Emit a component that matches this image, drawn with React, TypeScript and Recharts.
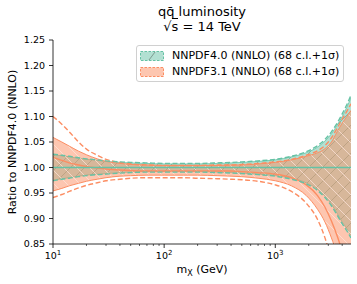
import React from 'react'
import { ComposedChart, Area, Line, XAxis, YAxis } from 'recharts'

const FONT = '"DejaVu Sans", sans-serif'
const GREEN = '#66c2a5'
const ORANGE = '#fc8d62'

// invariant mass grid (GeV)
const mx = [10, 12, 14, 17, 20, 25, 30, 40, 50, 70, 100, 150, 200, 300, 400, 500, 700, 1000, 1400, 1900, 2400, 2800, 3200, 3600, 4000, 4400, 4800]

// NNPDF4.0: 68 c.l. band and 1 sigma
const nn40Lo68 = [0.975, 0.978, 0.98, 0.983, 0.985, 0.987, 0.988, 0.99, 0.991, 0.992, 0.992, 0.992, 0.992, 0.991, 0.99, 0.989, 0.987, 0.984, 0.979, 0.97, 0.957, 0.944, 0.928, 0.91, 0.893, 0.88, 0.866]
const nn40Hi68 = [1.025, 1.023, 1.021, 1.018, 1.016, 1.014, 1.012, 1.01, 1.009, 1.008, 1.007, 1.007, 1.007, 1.008, 1.009, 1.01, 1.012, 1.015, 1.021, 1.029, 1.04, 1.052, 1.066, 1.083, 1.1, 1.118, 1.137]
const nn40Lo1s = [0.974, 0.977, 0.979, 0.982, 0.984, 0.986, 0.987, 0.989, 0.99, 0.991, 0.991, 0.991, 0.991, 0.99, 0.989, 0.988, 0.986, 0.983, 0.977, 0.968, 0.955, 0.941, 0.925, 0.907, 0.89, 0.876, 0.862]
const nn40Hi1s = [1.026, 1.024, 1.022, 1.019, 1.017, 1.015, 1.013, 1.011, 1.01, 1.009, 1.008, 1.008, 1.008, 1.009, 1.01, 1.011, 1.013, 1.016, 1.022, 1.031, 1.043, 1.055, 1.07, 1.087, 1.105, 1.123, 1.142]

// NNPDF3.1 ratio to NNPDF4.0
const nn31Central = [1.02, 1.014, 1.009, 1.005, 1.002, 0.999, 0.997, 0.995, 0.994, 0.993, 0.993, 0.993, 0.993, 0.993, 0.993, 0.992, 0.99, 0.987, 0.98, 0.966, 0.945, 0.922, 0.895, 0.866, 0.835, 0.8, 0.765]
const nn31Lo68 = [0.954, 0.959, 0.964, 0.969, 0.973, 0.977, 0.98, 0.983, 0.984, 0.985, 0.985, 0.985, 0.985, 0.984, 0.983, 0.982, 0.979, 0.974, 0.964, 0.945, 0.918, 0.893, 0.862, 0.83, 0.795, 0.76, 0.72]
const nn31Hi68 = [1.059, 1.05, 1.042, 1.032, 1.025, 1.017, 1.012, 1.008, 1.006, 1.005, 1.004, 1.004, 1.004, 1.004, 1.005, 1.005, 1.007, 1.01, 1.015, 1.022, 1.029, 1.037, 1.05, 1.07, 1.087, 1.1, 1.112]
const nn31Lo1s = [0.941, 0.947, 0.953, 0.96, 0.965, 0.97, 0.974, 0.977, 0.979, 0.98, 0.98, 0.98, 0.979, 0.978, 0.977, 0.976, 0.973, 0.966, 0.953, 0.93, 0.898, 0.862, 0.82, 0.78, 0.74, 0.7, 0.66]
const nn31Hi1s = [1.1, 1.085, 1.07, 1.05, 1.036, 1.024, 1.016, 1.01, 1.007, 1.005, 1.004, 1.004, 1.004, 1.005, 1.005, 1.006, 1.008, 1.011, 1.016, 1.024, 1.033, 1.043, 1.058, 1.077, 1.095, 1.11, 1.125]

const yTicks = [0.85, 0.9, 0.95, 1.0, 1.05, 1.1, 1.15, 1.2, 1.25]
const xMajor = [10, 100, 1000]
const xTicks = [10, 20, 30, 40, 50, 60, 70, 80, 90, 100, 200, 300, 400, 500, 600, 700, 800, 900, 1000, 2000, 3000, 4000]

const data = mx.map((m, i) => ({
  mx: m,
  g68: [nn40Lo68[i], nn40Hi68[i]],
  gLo: nn40Lo1s[i],
  gHi: nn40Hi1s[i],
  gc: 1,
  o68: [nn31Lo68[i], nn31Hi68[i]],
  oLo: nn31Lo1s[i],
  oHi: nn31Hi1s[i],
  oc: nn31Central[i],
}))

function XTick(props: any) {
  const { x, y, payload } = props
  const v = payload.value
  const major = xMajor.includes(v)
  return (
    <g>
      <line x1={x} x2={x} y1={y} y2={y + (major ? 4 : 2)} stroke="#000" strokeWidth={major ? 0.8 : 0.6} />
      {major && (
        <text x={x} y={y + 15} textAnchor="middle" fontSize={9.5} fontFamily={FONT} fill="#000">
          10<tspan dy={-4} fontSize={7}>{Math.round(Math.log10(v))}</tspan>
        </text>
      )}
    </g>
  )
}

function Patch({ color, hatch }: { color: string; hatch?: boolean }) {
  return (
    <svg width={24} height={10} style={{ display: 'block' }}>
      <rect x={0.5} y={0.5} width={23} height={9} fill={color} fillOpacity={0.5} stroke={color} strokeDasharray="2.5 1.5" />
      {hatch && <line x1={9} y1={9} x2={15} y2={1} stroke="#6f8a80" strokeWidth={0.8} />}
    </svg>
  )
}

export default function App() {
  return (
    <div style={{ position: 'absolute', left: 0, top: 0, width: 357, height: 284, background: '#fff', fontFamily: FONT }}>
      <ComposedChart width={357} height={284} data={data} margin={{ top: 40, right: 6, bottom: 0, left: 0 }}>
        <defs>
          <pattern id="hatchG" patternUnits="userSpaceOnUse" width={14} height={14}>
            <rect width={14} height={14} fill={GREEN} fillOpacity={0.5} />
            <path d="M0,14 L14,0 M-2,2 L2,-2 M12,16 L16,12" stroke="#5e9e88" strokeWidth={0.6} />
          </pattern>
          <pattern id="hatchO" patternUnits="userSpaceOnUse" width={13} height={13}>
            <rect width={13} height={13} fill={ORANGE} fillOpacity={0.5} />
            <path d="M0,0 L13,13 M-2,11 L2,15 M11,-2 L15,2" stroke="#fde6dc" strokeWidth={0.7} />
          </pattern>
        </defs>
        <XAxis
          dataKey="mx"
          type="number"
          scale="log"
          domain={[10, 4800]}
          allowDataOverflow
          ticks={xTicks}
          interval={0}
          tick={<XTick />}
          tickLine={false}
          tickSize={0}
          tickMargin={0}
          height={40}
          axisLine={{ stroke: '#000', strokeWidth: 0.8 }}
        />
        <YAxis
          type="number"
          domain={[0.85, 1.25]}
          allowDataOverflow
          ticks={yTicks}
          interval={0}
          width={53}
          tickFormatter={(v: number) => v.toFixed(2)}
          tick={{ fontSize: 9.5, fill: '#000', fontFamily: FONT }}
          tickSize={4}
          tickMargin={4}
          tickLine={{ stroke: '#000', strokeWidth: 0.8 }}
          axisLine={{ stroke: '#000', strokeWidth: 0.8 }}
        />
        <Area dataKey="g68" type="monotone" fill="url(#hatchG)" fillOpacity={1} stroke={GREEN} strokeWidth={0.8} isAnimationActive={false} />
        <Area dataKey="o68" type="monotone" fill="url(#hatchO)" fillOpacity={1} stroke={ORANGE} strokeWidth={1} isAnimationActive={false} />
        <Line dataKey="oHi" type="monotone" stroke={ORANGE} strokeWidth={1.4} strokeDasharray="5 2.5" dot={false} isAnimationActive={false} />
        <Line dataKey="oLo" type="monotone" stroke={ORANGE} strokeWidth={1.4} strokeDasharray="5 2.5" dot={false} isAnimationActive={false} />
        <Line dataKey="oc" type="monotone" stroke={ORANGE} strokeWidth={1.4} dot={false} isAnimationActive={false} />
        <Line dataKey="gHi" type="monotone" stroke={GREEN} strokeWidth={1.4} strokeDasharray="5 2.5" dot={false} isAnimationActive={false} />
        <Line dataKey="gLo" type="monotone" stroke={GREEN} strokeWidth={1.4} strokeDasharray="5 2.5" dot={false} isAnimationActive={false} />
        <Line dataKey="gc" type="monotone" stroke={GREEN} strokeWidth={1.6} dot={false} isAnimationActive={false} />
      </ComposedChart>

      <div style={{ position: 'absolute', left: 0, width: 404, top: 4, textAlign: 'center', fontSize: 13, lineHeight: '15px', color: '#000' }}>
        <div>qq&#772; luminosity</div>
        <div>
          √<span style={{ borderTop: '1px solid #000' }}>s</span> = 14 TeV
        </div>
      </div>

      <div
        style={{
          position: 'absolute', left: 136, top: 45, width: 206, height: 35,
          border: '1px solid #d0d0d0', borderRadius: 3, background: 'rgba(255,255,255,0.85)', fontSize: 11, color: '#000',
        }}
      >
        <div style={{ position: 'absolute', left: 3, top: 3, display: 'flex', alignItems: 'center', gap: 8 }}>
          <Patch color={GREEN} hatch />
          <span style={{ lineHeight: '13px' }}>NNPDF4.0 (NNLO) (68 c.l.+1σ)</span>
        </div>
        <div style={{ position: 'absolute', left: 3, top: 19, display: 'flex', alignItems: 'center', gap: 8 }}>
          <Patch color={ORANGE} />
          <span style={{ lineHeight: '13px' }}>NNPDF3.1 (NNLO) (68 c.l.+1σ)</span>
        </div>
      </div>

      <div style={{ position: 'absolute', left: 0, width: 404, top: 263, textAlign: 'center', fontSize: 11, color: '#000' }}>
        m<sub style={{ fontSize: 8 }}>X</sub> (GeV)
      </div>

      <div
        style={{
          position: 'absolute', left: 12, top: 142, transform: 'translate(-50%, -50%) rotate(-90deg)',
          whiteSpace: 'nowrap', fontSize: 11, color: '#000',
        }}
      >
        Ratio to NNPDF4.0 (NNLO)
      </div>
    </div>
  )
}
